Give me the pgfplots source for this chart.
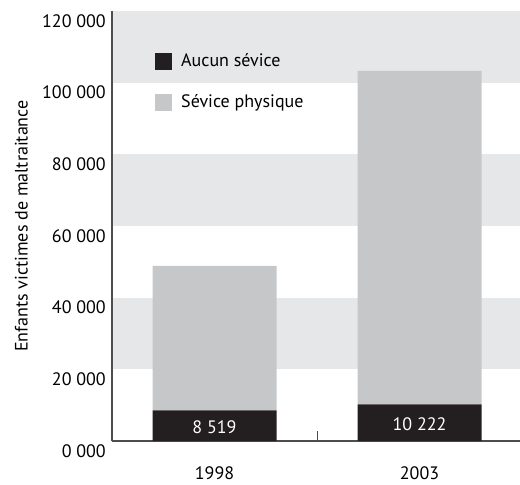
\documentclass[border=0pt]{standalone}
\usepackage{fontspec}
\setmainfont{PT Sans}
\usepackage{pgfplots}
\pgfplotsset{compat=1.18}
\definecolor{barblack}{HTML}{231F20}
\definecolor{bargray}{HTML}{C6C7C9}
\definecolor{band}{HTML}{E6E7E8}
\definecolor{axisgray}{HTML}{4D4D4D}
\pgfplotsset{sqlegend/.style={legend image code/.code={\fill[##1] (0pt,-8.5pt) rectangle (17pt,8.5pt);}},
  common/.style={at={(0,0)}, anchor=south west,
  scale only axis, width=408pt, height=430pt,
  xmin=-0.5, xmax=1.49, ymin=0, ymax=120000}}
\begin{document}
\fontsize{18}{21}\selectfont
\begin{tikzpicture}
\begin{axis}[common, hide axis]
\fill[band] (axis cs:-0.5,20000) rectangle (axis cs:1.49,40000);
\fill[band] (axis cs:-0.5,60000) rectangle (axis cs:1.49,80000);
\fill[band] (axis cs:-0.5,100000) rectangle (axis cs:1.49,120000);
\end{axis}
\begin{axis}[
  common,
  axis x line=bottom, axis y line=left,
  axis line style={draw=axisgray, line width=1.2pt, -},
  ybar stacked, bar width=124pt,
  xtick={0,1}, xticklabels={1998,2003},
  major tick length=0pt,
  extra x ticks={-0.5,0.5}, extra x tick labels={},
  extra x tick style={major tick length=10pt, tick align=inside, tick style={draw=axisgray, line width=1pt}},
  ytick={0,20000,40000,60000,80000,100000,120000},
  yticklabels={0 000,20 000,40 000,60 000,80 000,100 000,120 000},
  scaled y ticks=false,
  yticklabel style={yshift=-10pt, font=\fontsize{18}{21}\selectfont},
  xticklabel style={inner sep=0pt, anchor=north, yshift=-25pt, font=\fontsize{18}{21}\selectfont},
  ylabel={Enfants victimes de maltraitance},
  ylabel style={font=\fontsize{18}{21}\selectfont, yshift=2pt},
  legend style={draw=none, fill=none, at={(0.1054,0.906)}, anchor=north west, inner sep=0pt, row sep=21pt, font=\fontsize{18}{21}\selectfont,
    nodes={inner xsep=9pt}},
  legend cell align=left,
]
\addplot[fill=barblack, draw=none, sqlegend] coordinates {(0,8519) (1,10222)};
\addplot[fill=bargray, draw=none, sqlegend] coordinates {(0,40381) (1,93078)};
\coordinate (la) at (axis cs:0,3900);
\coordinate (lb) at (axis cs:1,4600);
\legend{Aucun sévice, Sévice physique}
\end{axis}
\node[white, font=\fontsize{18}{21}\selectfont] at (la) {8 519};
\node[white, font=\fontsize{18}{21}\selectfont] at (lb) {10 222};
\pgfresetboundingbox
\useasboundingbox (-112pt,-44pt) rectangle (408pt,441pt);
\end{tikzpicture}
\end{document}
